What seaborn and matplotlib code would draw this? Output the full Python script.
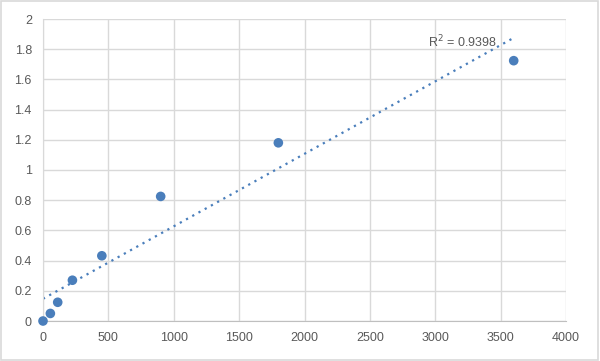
import numpy as np
import pandas as pd
import matplotlib
matplotlib.use("Agg")
import matplotlib.pyplot as plt
import seaborn as sns

# data
conc = [0, 56.25, 112.5, 225, 450, 900, 1800, 3600]
od = [0.0, 0.05, 0.124, 0.27, 0.432, 0.825, 1.18, 1.724]
x_ticks = [0, 500, 1000, 1500, 2000, 2500, 3000, 3500, 4000]
y_ticks = [0, 0.2, 0.4, 0.6, 0.8, 1, 1.2, 1.4, 1.6, 1.8, 2]
r2_label = "R$^2$ = 0.9398"

df = pd.DataFrame({"conc": conc, "od": od})

sns.set_style("white")
plt.rcParams["font.family"] = ["Liberation Sans", "DejaVu Sans"]

fig = plt.figure(figsize=(6, 3.61), dpi=100)
ax = fig.add_axes([43 / 600, 1 - 321 / 361, 523 / 600, 302 / 361])

# linear trend line (Excel style dotted)
slope, intercept = np.polyfit(df["conc"], df["od"], 1)
xs = np.array([0, max(conc)])
ax.plot(xs, slope * xs + intercept, linestyle=(0, (1, 2.2)), color="#4a7ebb", lw=1.6, zorder=2)

sns.scatterplot(data=df, x="conc", y="od", ax=ax, color="#4a7ebb", s=48,
                edgecolor="none", zorder=3, clip_on=False)

ax.text(2945, 1.85, r2_label, fontsize=9, color="#595959", va="center", ha="left")

ax.set_xlim(0, 4000)
ax.set_ylim(0, 2)
ax.set_xticks(x_ticks)
ax.set_yticks(y_ticks)
ax.set_xticklabels([str(t) for t in x_ticks])
ax.set_yticklabels([f"{t:g}" for t in y_ticks])
ax.grid(True, color="#d9d9d9", lw=1)
ax.set_axisbelow(True)
ax.set_xlabel("")
ax.set_ylabel("")
for s in ["top", "right"]:
    ax.spines[s].set_visible(False)
ax.spines["left"].set_color("#d9d9d9")
ax.spines["bottom"].set_color("#bfbfbf")
ax.tick_params(colors="#595959", labelsize=9, length=0, pad=8)

# outer chart border
fig.patches.append(plt.Rectangle((0.002, 0.003), 0.995, 0.994, transform=fig.transFigure,
                                 fill=False, edgecolor="#d9d9d9", lw=1.2))

fig.savefig("out.png", dpi=100)
